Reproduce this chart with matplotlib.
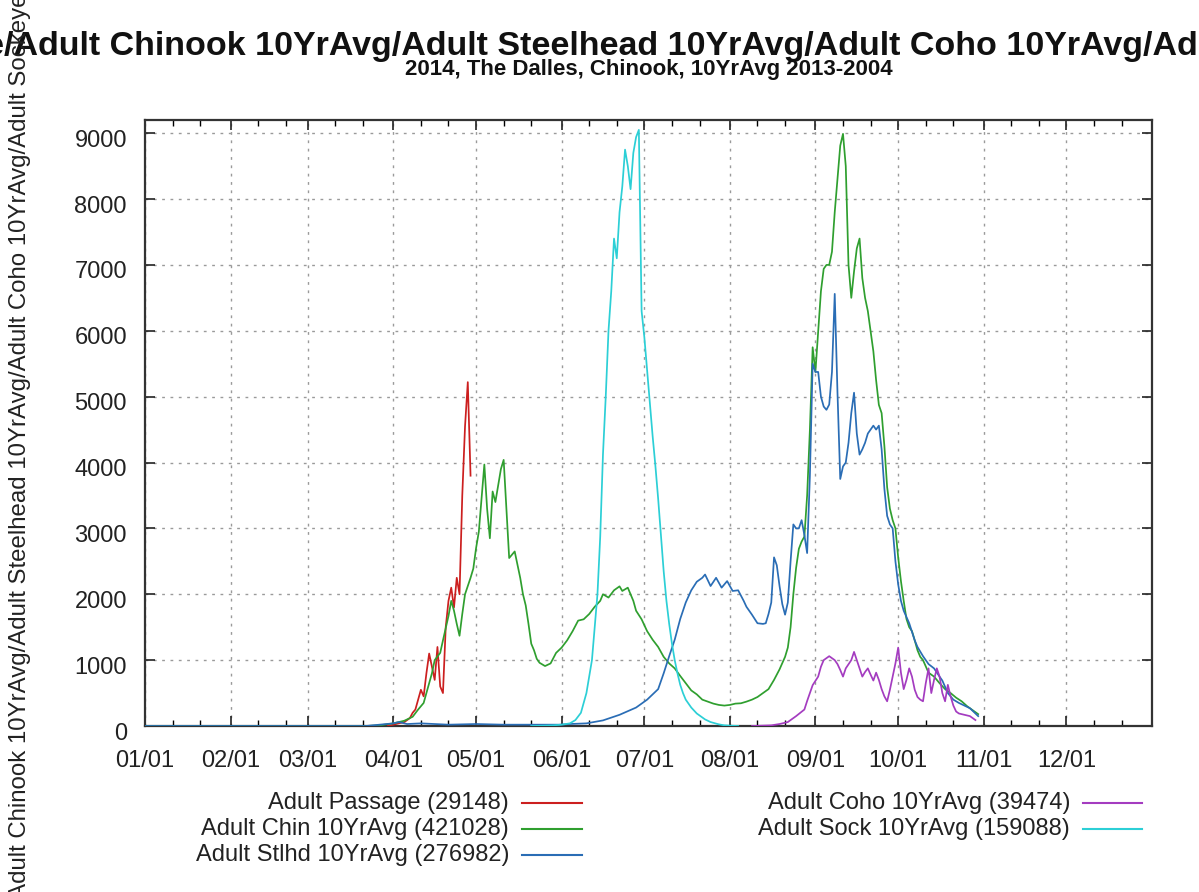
import matplotlib
matplotlib.use("Agg")
import matplotlib.pyplot as plt
from matplotlib.lines import Line2D
from matplotlib.ticker import FixedLocator
from matplotlib.transforms import ScaledTranslation

plt.rcParams['font.family'] = ['Liberation Sans', 'DejaVu Sans']

# ---------------- data: (day of year, fish count), day 0 = Jan 1 ----------------
month_days = [0, 31, 59, 90, 120, 151, 181, 212, 243, 273, 304, 334]
month_labels = ['01/01', '02/01', '03/01', '04/01', '05/01', '06/01',
                '07/01', '08/01', '09/01', '10/01', '11/01', '12/01']
yticks = [0, 1000, 2000, 3000, 4000, 5000, 6000, 7000, 8000, 9000]

passage = [(88, 0), (90, 20), (92, 40), (94, 60), (96, 120), (97, 200), (98, 250),
           (99, 400), (100, 550), (101, 450), (102, 800), (103, 1100), (104, 900),
           (105, 700), (106, 1200), (107, 600), (108, 500), (109, 1500), (110, 1900),
           (111, 2100), (112, 1800), (113, 2250), (114, 2000), (115, 3500), (116, 4550),
           (117, 5220), (118, 3800)]

chin = [(0, 0), (80, 0), (85, 10), (90, 40), (94, 80), (97, 140), (99, 250), (101, 350),
        (103, 650), (104, 800), (105, 1000), (107, 1110), (108, 1300), (110, 1670),
        (111, 1900), (112, 1750), (113, 1550), (114, 1370), (115, 1700), (116, 2000),
        (118, 2250), (119, 2390), (120, 2700), (121, 2950), (122, 3450), (123, 3970),
        (124, 3300), (125, 2850), (126, 3560), (127, 3400), (128, 3650), (129, 3900),
        (130, 4040), (131, 3300), (132, 2550), (133, 2600), (134, 2650), (135, 2450),
        (136, 2250), (137, 2000), (138, 1830), (139, 1550), (140, 1250), (141, 1150),
        (142, 1020), (143, 960), (145, 910), (147, 950), (149, 1110), (151, 1190),
        (153, 1300), (155, 1440), (157, 1600), (159, 1620), (161, 1700), (163, 1810),
        (165, 1900), (166, 2000), (168, 1950), (170, 2060), (172, 2120), (173, 2050),
        (175, 2100), (177, 1900), (178, 1750), (180, 1620), (182, 1440), (184, 1310),
        (186, 1200), (188, 1050), (190, 950), (192, 875), (194, 760), (196, 650),
        (198, 540), (200, 480), (202, 400), (204, 370), (206, 340), (208, 320),
        (210, 310), (212, 320), (214, 340), (216, 345), (218, 370), (220, 400),
        (222, 440), (224, 500), (226, 560), (228, 700), (230, 860), (232, 1050),
        (233, 1190), (234, 1500), (235, 2000), (236, 2400), (237, 2690), (238, 2800),
        (239, 2875), (240, 3500), (241, 4500), (242, 5750), (243, 5375), (244, 6000),
        (245, 6600), (246, 6940), (247, 7000), (248, 7000), (249, 7200), (250, 7800),
        (251, 8300), (252, 8810), (253, 8990), (254, 8500), (255, 7000), (256, 6500),
        (257, 6900), (258, 7250), (259, 7400), (260, 6800), (261, 6500), (262, 6300),
        (263, 6000), (264, 5690), (265, 5250), (266, 4875), (267, 4750), (268, 4250),
        (269, 3625), (270, 3300), (271, 3125), (272, 3000), (273, 2560), (274, 2200),
        (275, 1900), (276, 1625), (277, 1500), (278, 1440), (279, 1300), (280, 1150),
        (281, 1050), (282, 1000), (284, 810), (286, 750), (288, 650), (290, 560),
        (292, 500), (294, 430), (296, 375), (298, 300), (300, 240), (302, 180)]

stlhd = [(0, 0), (80, 0), (85, 20), (90, 40), (92, 60), (95, 30), (100, 40), (105, 30),
         (110, 20), (120, 30), (130, 20), (140, 20), (150, 20), (154, 30), (160, 40),
         (166, 85), (172, 170), (178, 280), (182, 400), (184, 480), (186, 560), (188, 800),
         (190, 1060), (192, 1310), (194, 1625), (196, 1875), (198, 2060), (200, 2190),
         (202, 2250), (203, 2300), (205, 2125), (207, 2250), (209, 2100), (211, 2200),
         (213, 2050), (215, 2060), (217, 1900), (218, 1810), (220, 1690), (222, 1560),
         (224, 1550), (225, 1560), (226, 1700), (227, 1875), (228, 2560), (229, 2440),
         (230, 2125), (231, 1850), (232, 1690), (233, 1875), (234, 2500), (235, 3060),
         (236, 3000), (237, 3000), (238, 3125), (239, 2900), (240, 2625), (241, 3800),
         (242, 5500), (243, 5375), (244, 5375), (245, 5000), (246, 4850), (247, 4800),
         (248, 4880), (249, 5375), (250, 6560), (251, 5060), (252, 3750), (253, 3940),
         (254, 4000), (255, 4300), (256, 4750), (257, 5060), (258, 4440), (259, 4120),
         (260, 4200), (261, 4300), (262, 4440), (264, 4560), (265, 4500), (266, 4560),
         (267, 4200), (268, 3600), (269, 3190), (270, 3060), (271, 3000), (272, 2500),
         (273, 2150), (274, 1900), (275, 1750), (277, 1560), (279, 1300), (280, 1200),
         (282, 1060), (284, 940), (286, 875), (288, 750), (289, 690), (291, 500),
         (293, 400), (295, 350), (297, 310), (299, 270), (301, 190), (302, 150)]

coho = [(220, 0), (227, 10), (230, 30), (233, 60), (236, 150), (239, 250), (240, 380),
        (241, 500), (242, 620), (244, 750), (245, 900), (246, 1000), (248, 1060),
        (250, 1000), (251, 940), (252, 850), (253, 750), (254, 875), (256, 1000),
        (257, 1125), (258, 1000), (259, 875), (260, 750), (261, 820), (262, 875),
        (263, 780), (264, 690), (265, 810), (266, 700), (267, 560), (268, 450), (269, 375),
        (270, 550), (271, 750), (272, 950), (273, 1190), (274, 810), (275, 560), (276, 700),
        (277, 875), (278, 750), (279, 550), (280, 440), (281, 400), (282, 375), (283, 650),
        (284, 875), (285, 500), (286, 700), (287, 875), (288, 750), (289, 500), (290, 375),
        (291, 625), (292, 450), (293, 310), (294, 220), (295, 190), (297, 170), (299, 150),
        (301, 90)]

sock = [(140, 0), (145, 5), (148, 10), (151, 20), (154, 40), (156, 90), (158, 200),
        (160, 500), (161, 750), (162, 1000), (163, 1500), (164, 2000), (165, 2875),
        (166, 4125), (167, 5000), (168, 6000), (169, 6600), (170, 7400), (171, 7100),
        (172, 7800), (173, 8190), (174, 8750), (175, 8500), (176, 8150), (177, 8700),
        (178, 8940), (179, 9050), (180, 6300), (181, 5900), (182, 5400), (183, 4900),
        (184, 4400), (185, 3950), (186, 3450), (187, 2900), (188, 2350), (189, 1900),
        (190, 1550), (191, 1250), (192, 1000), (193, 800), (194, 625), (195, 500),
        (196, 400), (198, 280), (200, 190), (203, 100), (205, 60), (208, 25), (210, 10),
        (215, 0)]

series_labels = ['Adult Passage (29148)', 'Adult Chin 10YrAvg (421028)',
                 'Adult Stlhd 10YrAvg (276982)', 'Adult Coho 10YrAvg (39474)',
                 'Adult Sock 10YrAvg (159088)']
series_colors = ['#cc1f1f', '#2f9f2f', '#2a6db5', '#a43cc0', '#2ccfd6']

title = ('Adult Passage/Adult Chinook 10YrAvg/Adult Steelhead 10YrAvg/'
         'Adult Coho 10YrAvg/Adult Sockeye 10YrAvg')
subtitle = '2014, The Dalles, Chinook, 10YrAvg 2013-2004'

# ---------------- figure ----------------
W, H = 1199, 892
fig = plt.figure(figsize=(W / 100, H / 100), dpi=100)
L, R, T, B = 145, 1152, 120, 726
ax = fig.add_axes([L / W, 1 - B / H, (R - L) / W, (B - T) / H])

series = [passage, chin, stlhd, coho, sock]
draw_order = [4, 3, 1, 2, 0]
for i in draw_order:
    d = [p[0] for p in series[i]]
    v = [p[1] for p in series[i]]
    ax.plot(d, v, color=series_colors[i], lw=1.25, zorder=3 + i * 0.1)

ax.set_xlim(0, 365)
ax.set_ylim(0, 9200)
ax.set_xticks(month_days)
ax.set_xticklabels(month_labels)
minor = [m + k for m in month_days for k in (10, 20)]
ax.xaxis.set_minor_locator(FixedLocator(minor))
ax.set_yticks(yticks)
ax.set_yticklabels([str(t) for t in yticks])

ax.tick_params(axis='both', which='major', direction='in', length=7, width=1.2,
               top=True, right=True, labelsize=17, colors='#222222')
ax.tick_params(axis='x', which='major', pad=17)
ax.tick_params(axis='y', which='major', pad=13)
ax.tick_params(axis='x', which='minor', direction='in', length=4, width=1.0,
               top=True, bottom=True)
shift = ScaledTranslation(0, -5 / 100, fig.dpi_scale_trans)
for lab in ax.get_yticklabels():
    lab.set_transform(lab.get_transform() + shift)
for lab in ax.get_xticklabels() + ax.get_yticklabels():
    lab.set_color('#222222')

ax.grid(True, which='major', color='#9a9a9a', linestyle=(0, (2, 4)), lw=1.0, zorder=1)
for s in ax.spines.values():
    s.set_linewidth(1.6)
    s.set_color('#333333')

# title and subtitle
cx = ((L + R) / 2) / W
fig.text(cx + 3 / W, 1 - 46 / H, title, ha='center', va='center', fontsize=24.5,
         fontweight='bold', color='#111111')
fig.text(cx, 1 - 69 / H, subtitle, ha='center', va='center', fontsize=16,
         fontweight='bold', color='#111111')

# y label
fig.text(20 / W, 1 - 478 / H, title, rotation=90, ha='center', va='center',
         fontsize=17.3, color='#222222')

# legend (gnuplot style: right-aligned text then sample line)
legend_cols = [(509, 522, 582), (1070, 1083, 1142)]
legend_rows = [803, 829, 855]
placement = [(0, 0), (0, 1), (0, 2), (1, 0), (1, 1)]
for i, (c, r) in enumerate(placement):
    tx, l0, l1 = legend_cols[c]
    y = 1 - legend_rows[r] / H
    fig.text(tx / W, y, series_labels[i], ha='right', va='center', fontsize=17,
             color='#222222')
    fig.add_artist(Line2D([l0 / W, l1 / W], [y, y], color=series_colors[i], lw=1.5,
                          transform=fig.transFigure))

fig.savefig('out.png', dpi=100)
